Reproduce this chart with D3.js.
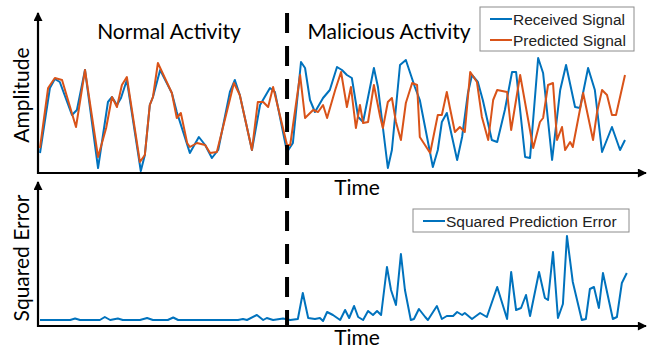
<!DOCTYPE html>
<html>
<head>
<meta charset="utf-8">
<script src="https://cdn.jsdelivr.net/npm/d3@7"></script>
<style>
  html, body { margin: 0; padding: 0; background: #fff; }
  svg { display: block; }
</style>
</head>
<body>
<svg id="chart" width="650" height="349"></svg>
<script>
// sample times (arbitrary units) and amplitudes
const recvT = [0,2.2,3.3,4.4,7.1,8.2,10,12.9,14,15.1,16,17.1,18,19.3,22.4,23.3,24.4,25.1,26.7,29.3,30.4,33.3,35.3,36.7,38.2,39.6,42.2,43.3,44.4,47.1,48.9,51.1,52.2,54.9,56.2,58,58.9,60,61.1,62.9,64.4,66,67.1,68.2,69.3,70.7,71.8,74.2,75.1,77.3,78.2,80,81.3,83.3,84.4,87.3,88.4,89.3,90.4,92.7,93.8,95.1,96,97.3,98.4,100.4,101.6,103.3,104.9,105.8,107.8,108.9,110.7,111.8,113.8,115.6,116.9,118.9,120,121.8,123.3,124.9,127.1,128.9,130];
const recvV = [2.0,8.5,9.4,9.1,5.8,6.3,10.3,0.5,3.8,7.1,7.6,6.8,7.5,9.3,0.2,1.8,6.8,7.6,10.3,8.0,6.1,2.0,3.6,2.8,1.5,2.3,8.1,9.3,7.8,2.3,6.8,8.5,8.1,2.1,3.0,11.1,10.5,7.3,6.1,7.5,8.3,10.6,10.3,9.8,9.5,5.6,5.1,10.5,8.6,0.5,2.3,10.8,11.3,8.6,7.3,0.6,2.3,5.1,6.0,1.3,3.6,8.0,9.8,9.1,7.3,3.3,3.1,6.3,10.1,10.1,1.6,1.5,11.5,10.0,1.3,8.3,10.8,6.6,6.5,10.5,8.3,2.1,4.6,2.3,3.3];

const predT = [0,1.8,3.3,4.9,8,10,12.9,14.7,16,17.1,18.2,19.3,22.2,23.3,24.4,25.1,26.2,29.3,30.4,31.3,32.7,33.3,34.9,36.7,37.8,39.3,43.1,44.4,47.1,48.4,49.6,50.7,51.8,54.9,55.6,57.8,58.9,60.7,61.8,62.9,63.8,65.6,66.9,68.2,69.1,70.2,71.1,71.8,72.9,74.2,75.6,76.2,77.3,78.2,79.1,80.2,81.3,82.7,83.8,84.4,86.7,88.4,89.3,90.4,91.1,92.2,93.3,94.4,95.6,97.1,98.2,99.6,100.7,101.6,103.8,104.7,106.7,109.6,111.1,111.8,112.9,114,114.9,116,116.7,117.8,118.4,120.7,122.9,123.8,124.9,126,127.1,128,130];
const predV = [2.5,8.5,9.5,9.3,4.6,10.3,1.6,4.5,7.6,6.6,8.8,9.6,1.1,1.8,6.8,7.6,11.0,8.0,5.5,6.0,3.0,2.6,3.0,2.8,2.0,2.1,9.0,7.8,2.3,7.1,7.1,6.6,8.6,2.8,2.8,9.8,5.5,6.3,6.1,6.8,5.5,8.3,10.1,6.6,8.6,4.5,6.8,5.0,5.1,8.8,5.6,4.5,7.1,7.5,5.1,3.3,7.0,9.0,8.8,3.6,2.0,5.8,5.8,8.1,6.5,4.1,4.6,4.1,10.1,9.1,5.6,3.3,7.3,8.3,8.1,4.3,9.8,2.5,5.1,5.5,8.8,9.0,3.3,4.6,2.3,3.1,2.6,8.0,3.3,6.1,8.3,7.8,5.8,5.8,9.8];

const errT = [0,6.7,7.8,8.9,13.3,14.4,15.6,17.3,18.4,22.2,23.8,25.1,28.4,29.6,30.7,44,45.1,46,48.2,49.6,50.4,51.8,54,55.6,57.3,58.4,59.6,61.1,62.2,62.9,63.8,65.1,66.7,67.8,68.7,69.8,70.7,71.8,72.9,74,74.9,75.8,77.1,78,79.1,80.2,81.1,82.4,83.1,84.2,85.6,86.2,88.2,89.3,90.4,91.8,92.7,93.8,94.4,96,97.8,99.3,101.6,103.8,104.7,105.8,106.9,108,108.9,110.9,112.2,112.9,114,115.1,116.2,117.1,118.4,120.4,121.3,122.2,123.1,124.2,125.1,127.3,128.2,129.3,130.4];
const errV = [0.2,0.2,0.35,0.2,0.2,0.5,0.2,0.35,0.2,0.2,0.4,0.2,0.2,0.45,0.2,0.2,0.3,0.2,0.7,0.2,0.4,0.2,0.35,0.2,0.3,2.9,0.4,0.3,0.4,0.1,1.0,0.7,0.2,1.2,0.4,1.6,0.5,0.2,1.1,0.7,1.1,0.7,5.5,3.2,1.7,6.8,3.2,0.2,0.3,1.3,0.5,0.2,1.6,0.3,0.6,0.6,1.0,0.7,0.9,0.3,0.9,0.5,3.5,0.3,5.0,1.2,1.4,2.7,0.6,5.0,2.4,2.2,7.0,0.4,1.8,8.6,4.0,0.2,0.3,3.3,3.5,1.4,4.9,0.3,0.5,3.9,4.9];

const attackStart = 54.9;
const phaseLabels = ["Normal Activity", "Malicious Activity"];
const topLegend = ["Received Signal", "Predicted Signal"];
const bottomLegend = ["Squared Prediction Error"];

const blue = "#0072BD", orange = "#D95319";
const bigFont = "Lato, 'Open Sans', sans-serif";
const legFont = "'Liberation Sans', Arial, sans-serif";

const svg = d3.select("#chart");

const x = d3.scaleLinear().domain([0, 130]).range([40, 625]);
const yTop = d3.scaleLinear().domain([0, 16]).range([173, 13]);
const yBot = d3.scaleLinear().domain([0, 10]).range([322, 222]);

const axisX0 = 38, axisX1 = 646;
const topAxisY = 173, botAxisY = 326;

// arrow marker for the axes
svg.append("defs").append("marker")
  .attr("id", "arrow")
  .attr("viewBox", "0 0 10 10")
  .attr("refX", 9).attr("refY", 5)
  .attr("markerWidth", 10).attr("markerHeight", 9)
  .attr("markerUnits", "userSpaceOnUse")
  .attr("orient", "auto")
  .append("path").attr("d", "M0,0 L10,5 L0,10 Z").attr("fill", "#000");

function axes(baseY, topY) {
  svg.append("line")
    .attr("x1", axisX0).attr("y1", baseY).attr("x2", axisX1).attr("y2", baseY)
    .attr("stroke", "#000").attr("stroke-width", 2.2).attr("marker-end", "url(#arrow)");
  svg.append("line")
    .attr("x1", axisX0).attr("y1", baseY + 1).attr("x2", axisX0).attr("y2", topY)
    .attr("stroke", "#000").attr("stroke-width", 2.2).attr("marker-end", "url(#arrow)");
}
axes(topAxisY, 13);
axes(botAxisY, 182);

// series lines
function series(ts, vs, yScale, color) {
  const pts = ts.map((t, i) => [t, vs[i]]);
  svg.append("path")
    .datum(pts)
    .attr("fill", "none")
    .attr("stroke", color)
    .attr("stroke-width", 2)
    .attr("stroke-linejoin", "round")
    .attr("d", d3.line().x(d => x(d[0])).y(d => yScale(d[1])));
}
series(recvT, recvV, yTop, blue);
series(predT, predV, yTop, orange);
series(errT, errV, yBot, blue);

// attack boundary
svg.append("line")
  .attr("x1", x(attackStart)).attr("x2", x(attackStart))
  .attr("y1", 13).attr("y2", botAxisY + 1)
  .attr("stroke", "#000").attr("stroke-width", 4)
  .attr("stroke-dasharray", "20,13");

// phase labels
svg.selectAll(".phase")
  .data(phaseLabels)
  .enter().append("text")
  .attr("class", "phase")
  .attr("x", (d, i) => i === 0 ? 169 : 389)
  .attr("y", 39)
  .attr("text-anchor", "middle")
  .attr("font-family", bigFont)
  .attr("font-size", 21)
  .text(d => d);

// axis titles
[topAxisY + 22, botAxisY + 19].forEach(yy => {
  svg.append("text")
    .attr("x", 357).attr("y", yy)
    .attr("text-anchor", "middle")
    .attr("font-family", bigFont).attr("font-size", 21)
    .text("Time");
});
svg.append("text")
  .attr("transform", "translate(29,95) rotate(-90)")
  .attr("text-anchor", "middle")
  .attr("font-family", bigFont).attr("font-size", 21)
  .text("Amplitude");
svg.append("text")
  .attr("transform", "translate(29,258) rotate(-90)")
  .attr("text-anchor", "middle")
  .attr("font-family", bigFont).attr("font-size", 21)
  .text("Squared Error");

// legends
function legend(items, colors, bx, by, bw, bh) {
  const g = svg.append("g");
  g.append("rect")
    .attr("x", bx).attr("y", by).attr("width", bw).attr("height", bh)
    .attr("fill", "#fff").attr("stroke", "#8c8c8c").attr("stroke-width", 1);
  items.forEach((d, i) => {
    const cy = by + 12 + i * 21;
    g.append("line")
      .attr("x1", bx + 10).attr("x2", bx + 32)
      .attr("y1", cy).attr("y2", cy)
      .attr("stroke", colors[i]).attr("stroke-width", 2);
    g.append("text")
      .attr("x", bx + 33).attr("y", cy + 5.5)
      .attr("font-family", legFont).attr("font-size", 15.5)
      .attr("fill", "#222")
      .text(d);
  });
}
legend(topLegend, [blue, orange], 480, 7, 154, 44);
legend(bottomLegend, [blue], 413, 209, 216, 23);
</script>
</body>
</html>
